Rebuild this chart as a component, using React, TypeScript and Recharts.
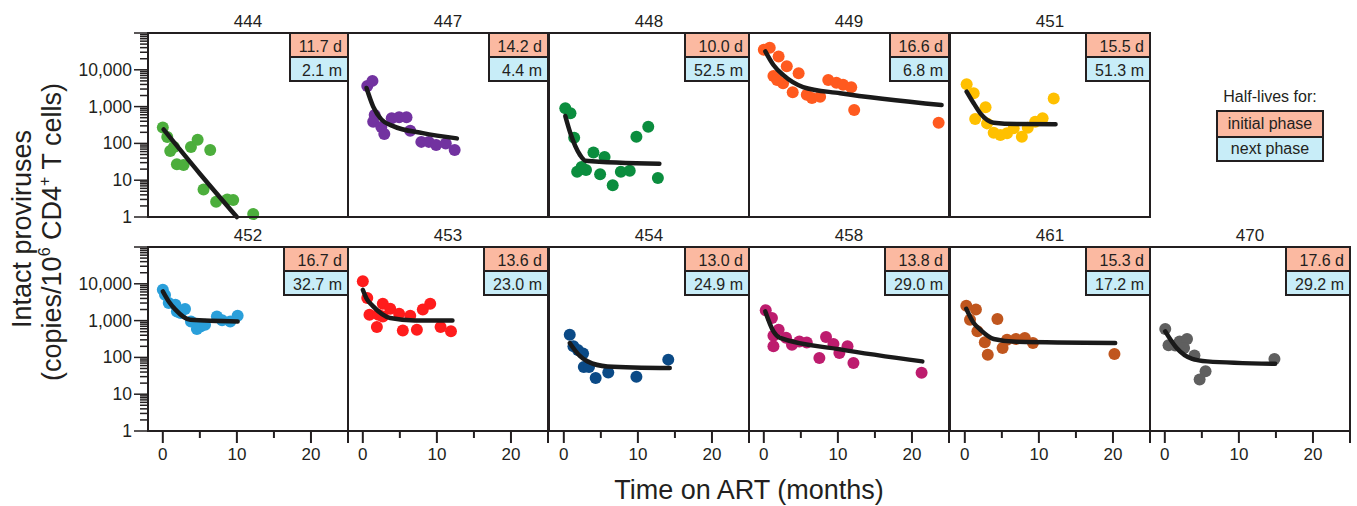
import React from "react";
import { ComposedChart, Scatter, Line, XAxis, YAxis } from "recharts";

// measured points [months, copies per 10^6 CD4+ T cells]
const pts444 = [[0, 270], [0.6, 150], [1.0, 62], [1.5, 80], [1.9, 27], [2.8, 26], [3.8, 80], [4.7, 125], [6.4, 66], [5.5, 5.6], [7.2, 2.6], [8.7, 3.0], [9.5, 2.9], [12.2, 1.2]];
const fit444 = [[0.1, 240], [5, 15], [10, 1]];

const pts447 = [[0.6, 3650], [1.3, 5000], [1.6, 590], [1.4, 390], [2.5, 280], [2.9, 180], [3.9, 480], [4.9, 510], [5.9, 510], [6.4, 220], [7.9, 110], [8.9, 110], [9.9, 90], [11.2, 100], [12.4, 66]];
const fit447 = [[0.5, 3200], [1.4, 1000], [2.5, 450], [4.1, 295], [8.1, 190], [12.7, 137]];

const pts448 = [[0.2, 900], [0.9, 660], [1.4, 142], [4.0, 57], [5.5, 43], [1.8, 17], [3.0, 19], [2.4, 23], [4.9, 14.6], [6.6, 7.3], [7.7, 17], [8.9, 18], [9.8, 152], [11.4, 283], [12.7, 11.5]];
const fit448 = [[0.2, 555], [0.9, 186], [2.2, 48], [2.9, 34], [12.9, 28]];

const pts449 = [[0, 35000], [0.8, 40000], [2.0, 23000], [3.1, 12400], [1.3, 6800], [2.6, 4300], [1.8, 5300], [4.7, 8100], [3.9, 2450], [5.8, 2100], [6.5, 1700], [7.6, 1860], [8.7, 5300], [9.8, 4470], [10.7, 3900], [11.8, 3370], [12.2, 810], [23.6, 364]];
const fit449 = [[0.2, 31600], [1.3, 13500], [2.6, 7250], [5.3, 3400], [10.3, 2300], [24, 1100]];

const pts451 = [[0.25, 4060], [1.2, 2300], [2.8, 960], [1.4, 460], [3.0, 350], [3.9, 195], [4.8, 168], [5.7, 188], [6.6, 257], [7.7, 151], [8.5, 267], [9.5, 390], [10.5, 480], [12.0, 1650]];
const fit451 = [[0.25, 2560], [1.2, 1230], [2.1, 656], [3.9, 365], [7, 335], [12.25, 330]];

const pts452 = [[0, 6900], [0.3, 5000], [0.8, 3000], [1.7, 2700], [1.9, 1780], [2.4, 1600], [3.0, 2080], [3.8, 950], [4.6, 590], [5.1, 690], [5.7, 770], [7.3, 1300], [8.0, 1020], [9.1, 950], [10.1, 1350]];
const fit452 = [[0, 6200], [0.8, 3300], [1.7, 1990], [3.7, 1050], [10.1, 950]];

const pts453 = [[0, 11700], [0.6, 4100], [0.9, 1440], [1.9, 670], [2.1, 1440], [2.7, 2870], [3.7, 2100], [2.7, 1300], [4.9, 1540], [5.4, 535], [6.4, 1360], [7.3, 566], [8.1, 1990], [9.1, 2870], [10.5, 670], [11.9, 510]];
const fit453 = [[0, 6900], [0.5, 4000], [1.4, 2440], [3.7, 1180], [7, 1010], [12.1, 1000]];

const pts454 = [[0.8, 415], [1.3, 200], [1.9, 160], [2.6, 127], [2.7, 55], [3.4, 55], [4.3, 27.5], [6.0, 39], [9.8, 30], [14.1, 87]];
const fit454 = [[0.8, 246], [2, 118], [3.2, 78], [5.9, 57], [14.3, 51.5]];

const pts458 = [[0.26, 1900], [1.1, 1180], [2.0, 565], [1.3, 390], [1.3, 200], [3.0, 340], [3.8, 222], [4.8, 270], [5.8, 255], [7.5, 96], [8.4, 357], [9.4, 230], [10.2, 132], [11.3, 200], [12.1, 70], [21.3, 38]];
const fit458 = [[0.2, 1780], [1.3, 510], [2.2, 338], [10.3, 165], [21.4, 78]];

const pts461 = [[0.2, 2550], [1.5, 1990], [0.7, 1050], [4.4, 1100], [1.7, 510], [2.7, 257], [3.1, 118], [5.1, 180], [5.7, 302], [6.9, 316], [8.1, 338], [9.2, 246], [20.2, 124]];
const fit461 = [[0.2, 2080], [1.2, 860], [2.1, 565], [3.9, 316], [7, 265], [20.3, 246]];

const pts470 = [[0.06, 590], [0.5, 213], [1.4, 210], [2.0, 270], [3.0, 316], [2.6, 180], [4.0, 112], [5.5, 42], [4.7, 25], [14.8, 91]];
const fit470 = [[0.06, 510], [1.6, 180], [3.7, 91], [5.7, 78], [14.9, 67]];

const patientIds = ["444", "447", "448", "449", "451", "452", "453", "454", "458", "461", "470"];
const initialHalfLives = ["11.7 d", "14.2 d", "10.0 d", "16.6 d", "15.5 d", "16.7 d", "13.6 d", "13.0 d", "13.8 d", "15.3 d", "17.6 d"];
const nextHalfLives = ["2.1 m", "4.4 m", "52.5 m", "6.8 m", "51.3 m", "32.7 m", "23.0 m", "24.9 m", "29.0 m", "17.2 m", "29.2 m"];

const yMajor = [1, 10, 100, 1000, 10000, 100000];
const yMinorSteps = [2, 3, 4, 5, 6, 7, 8, 9];
const xTicks = [0, 5, 10, 15, 20, 25];

const allPoints = [pts444, pts447, pts448, pts449, pts451, pts452, pts453, pts454, pts458, pts461, pts470];
const allFits = [fit444, fit447, fit448, fit449, fit451, fit452, fit453, fit454, fit458, fit461, fit470];
const colors = ["#4cae3c", "#7232a0", "#0b8d3e", "#ff5a1f", "#ffc000", "#2a9fda", "#ff1c1c", "#0b4a86", "#bd1c6e", "#c0561e", "#5f5f5f"];

const INK = "#231f20";
const FONT = "'Liberation Sans', Arial, sans-serif";
const SALMON = "#fbb9a1";
const SKY = "#c8edf8";

const colLeft = [148, 348, 549, 749, 950, 1150];
const rowTop = [33, 247];
const PW = 200;
const PH = 184;

const yTicks = [
  ...yMajor,
  ...yMajor.slice(0, 5).flatMap((d) => yMinorSteps.map((k) => d * k)),
].sort((a, b) => a - b);

const toXY = (arr: number[][]) => arr.map(([x, y]) => ({ x, y }));

function YTick(props: any) {
  const { x, y, payload } = props;
  const v = payload.value;
  const lg = Math.log10(v);
  const major = Math.abs(lg - Math.round(lg)) < 1e-6;
  return (
    <g>
      <line x1={x - (major ? 14 : 8)} x2={x} y1={y} y2={y} stroke={INK} strokeWidth={1.5} />
      {major && v < 100000 && (
        <text x={x - 16} y={y} dy={6} textAnchor="end" fontSize={17.5} fill={INK} fontFamily={FONT}>
          {v.toLocaleString("en-US")}
        </text>
      )}
    </g>
  );
}

function XTick(props: any) {
  const { x, y, payload } = props;
  const v = payload.value;
  const long = v % 10 === 0 || v === 25;
  return (
    <g>
      <line x1={x} x2={x} y1={y} y2={y + (long ? 12 : 7)} stroke={INK} strokeWidth={2} />
      {v % 10 === 0 && (
        <text x={x} y={y + 29} textAnchor="middle" fontSize={17} fill={INK} fontFamily={FONT}>
          {v}
        </text>
      )}
    </g>
  );
}

function Dot(props: any) {
  const { cx, cy, fill } = props;
  return <circle cx={cx} cy={cy} r={6} fill={fill} />;
}

// one layer of a panel: "dots" draws axes + scatter, "fit" draws only the black curve on top
function PanelLayer({ idx, layer }: { idx: number; layer: "dots" | "fit" }) {
  const row = idx < 5 ? 0 : 1;
  const col = idx < 5 ? idx : idx - 5;
  const L = colLeft[col];
  const T = rowTop[row];
  const first = col === 0;
  const leftSpace = first ? 148 : 8;
  const bottomSpace = row === 1 ? 45 : 10;
  const w = leftSpace + PW + 8;
  const h = 10 + PH + bottomSpace;
  const showTicks = layer === "dots";
  return (
    <div style={{ position: "absolute", left: first ? 0 : L - 8, top: T - 10 }}>
      <ComposedChart
        width={w}
        height={h}
        margin={{ top: 10, right: 8, bottom: row === 1 ? 0 : 10, left: first ? 0 : 8 }}
      >
        <XAxis
          type="number"
          dataKey="x"
          domain={[-2, 25]}
          ticks={xTicks}
          interval={0}
          hide={row === 0}
          height={45}
          axisLine={false}
          tickLine={false}
          tickSize={0}
          tickMargin={0}
          tick={showTicks ? <XTick /> : false}
        />
        <YAxis
          type="number"
          dataKey="y"
          scale="log"
          domain={[1, 100000]}
          ticks={yTicks}
          interval={0}
          hide={!first}
          width={148}
          axisLine={false}
          tickLine={false}
          tickSize={0}
          tickMargin={0}
          tick={showTicks ? <YTick /> : false}
        />
        {layer === "dots" ? (
          <Scatter data={toXY(allPoints[idx])} fill={colors[idx]} shape={<Dot />} isAnimationActive={false} />
        ) : (
          <Line
            data={toXY(allFits[idx])}
            dataKey="y"
            type="monotone"
            stroke="#1a1a1a"
            strokeWidth={4.5}
            strokeLinecap="round"
            dot={false}
            activeDot={false}
            isAnimationActive={false}
          />
        )}
      </ComposedChart>
    </div>
  );
}

function Panel({ idx }: { idx: number }) {
  const row = idx < 5 ? 0 : 1;
  const col = idx < 5 ? idx : idx - 5;
  const L = colLeft[col];
  const T = rowTop[row];
  return (
    <>
      <PanelLayer idx={idx} layer="dots" />
      <PanelLayer idx={idx} layer="fit" />
      <div
        style={{
          position: "absolute",
          left: L - 1,
          top: T - 1,
          width: PW + 2,
          height: PH + 2,
          border: `2px solid ${INK}`,
          boxSizing: "border-box",
          pointerEvents: "none",
        }}
      >
        <div style={{ position: "absolute", top: 0, right: 0, fontSize: 16, color: INK }}>
          {[initialHalfLives[idx], nextHalfLives[idx]].map((t, i) => (
            <div
              key={i}
              style={{
                background: i === 0 ? SALMON : SKY,
                borderLeft: `2px solid ${INK}`,
                borderBottom: `2px solid ${INK}`,
                padding: "3px 5px 0 8px",
                height: 19,
                lineHeight: "19.5px",
                textAlign: "right",
                whiteSpace: "nowrap",
              }}
            >
              {t}
            </div>
          ))}
        </div>
      </div>
    </>
  );
}

export default function App() {
  return (
    <div
      style={{
        position: "absolute",
        left: 0,
        top: 0,
        width: 1357,
        height: 506,
        background: "#fff",
        fontFamily: FONT,
        color: INK,
        overflow: "hidden",
      }}
    >
      {patientIds.map((_, i) => (
        <Panel key={i} idx={i} />
      ))}

      <svg width={1357} height={506} style={{ position: "absolute", left: 0, top: 0, pointerEvents: "none" }}>
        {patientIds.map((id, i) => {
          const row = i < 5 ? 0 : 1;
          const col = i < 5 ? i : i - 5;
          return (
            <text key={id} x={colLeft[col] + PW / 2} y={rowTop[row] - 6} textAnchor="middle" fontSize={17} fill={INK} fontFamily={FONT}>
              {id}
            </text>
          );
        })}
        <text x={749} y={499} textAnchor="middle" fontSize={27} fill={INK} fontFamily={FONT}>
          Time on ART (months)
        </text>
        <text x={31} y={229} transform="rotate(-90 31 229)" textAnchor="middle" fontSize={27} fill={INK} fontFamily={FONT}>
          Intact proviruses
        </text>
        <text x={61} y={232} transform="rotate(-90 61 232)" textAnchor="middle" fontSize={27} fill={INK} fontFamily={FONT}>
          (copies/10
          <tspan fontSize={16} dy={-11}>6</tspan>
          <tspan dy={11}> CD4</tspan>
          <tspan fontSize={16} dy={-11}>+</tspan>
          <tspan dy={11}> T cells)</tspan>
        </text>
        <text x={1270} y={101.5} textAnchor="middle" fontSize={16} fill={INK} fontFamily={FONT}>
          Half-lives for:
        </text>
      </svg>

      <div
        style={{
          position: "absolute",
          left: 1216,
          top: 110,
          width: 108,
          border: `2px solid ${INK}`,
          boxSizing: "border-box",
          fontSize: 16,
          textAlign: "center",
        }}
      >
        <div style={{ background: SALMON, height: 24, lineHeight: "24px", borderBottom: `2px solid ${INK}` }}>initial phase</div>
        <div style={{ background: SKY, height: 22, lineHeight: "22px" }}>next phase</div>
      </div>
    </div>
  );
}
